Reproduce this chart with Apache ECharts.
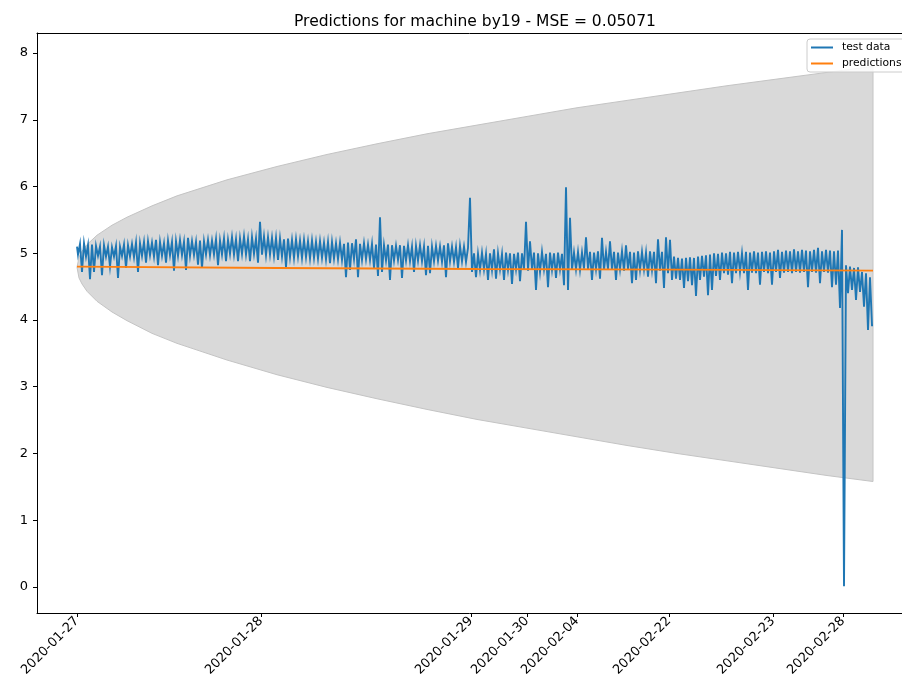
<!DOCTYPE html>
<html>
<head>
<meta charset="utf-8">
<script src="https://cdn.jsdelivr.net/npm/echarts@6/dist/echarts.min.js"></script>
<style>
  html, body { margin: 0; padding: 0; background: #fff; }
  #chart { width: 902px; height: 693px; }
</style>
</head>
<body>
<div id="chart"></div>
<script>
// ---- data (x axis = sample index) ----
const dateLabels = ['2020-01-27', '2020-01-28', '2020-01-29', '2020-01-30', '2020-02-04', '2020-02-22', '2020-02-23', '2020-02-28'];
const dateTickIndex = [0, 92, 197, 225, 250, 296, 348, 383];
const yTicks = [0, 1, 2, 3, 4, 5, 6, 7, 8];

const testValues = [
  5.10, 4.98, 5.14, 4.72, 5.15, 4.95, 5.12, 4.61, 5.13, 4.72,
  5.11, 4.96, 5.10, 4.67, 5.12, 4.95, 5.10, 4.80, 5.09, 4.95,
  5.11, 4.63, 5.10, 4.96, 5.13, 4.78, 5.12, 4.95, 5.14, 4.94,
  5.16, 4.72, 5.15, 4.96, 5.17, 4.86, 5.18, 4.97, 5.16, 4.95,
  5.20, 4.82, 5.17, 4.96, 5.15, 4.86, 5.19, 4.97, 5.17, 4.74,
  5.18, 4.96, 5.20, 4.97, 5.17, 4.75, 5.23, 4.96, 5.18, 4.97,
  5.17, 4.83, 5.19, 4.78, 5.18, 4.98, 5.20, 4.97, 5.19, 4.98,
  5.21, 4.82, 5.19, 4.98, 5.22, 4.88, 5.20, 4.99, 5.24, 4.98,
  5.21, 4.88, 5.22, 4.99, 5.25, 4.98, 5.21, 4.88, 5.24, 4.99,
  5.22, 4.86, 5.47, 4.98, 5.25, 4.97, 5.24, 4.98, 5.23, 4.96,
  5.23, 4.90, 5.22, 4.95, 5.21, 4.79, 5.22, 4.94, 5.20, 4.93,
  5.21, 4.95, 5.19, 4.93, 5.20, 4.94, 5.18, 4.92, 5.19, 4.93,
  5.17, 4.92, 5.18, 4.93, 5.16, 4.91, 5.17, 4.85, 5.17, 4.92,
  5.15, 4.91, 5.16, 4.90, 5.14, 4.64, 5.16, 4.75, 5.15, 4.91,
  5.21, 4.64, 5.14, 4.90, 5.15, 4.91, 5.13, 4.90, 5.14, 4.78,
  5.13, 4.66, 5.54, 4.72, 5.12, 4.89, 5.13, 4.60, 5.12, 4.89,
  5.11, 4.90, 5.12, 4.63, 5.11, 4.89, 5.12, 4.88, 5.10, 4.72,
  5.11, 4.89, 5.12, 4.88, 5.10, 4.67, 5.11, 4.70, 5.10, 4.88,
  5.11, 4.89, 5.10, 4.87, 5.12, 4.64, 5.15, 4.88, 5.10, 4.87,
  5.09, 4.78, 5.11, 4.88, 5.10, 4.87, 5.08, 5.83,
  4.72, 5.00, 4.64, 4.99, 4.75, 5.01, 4.76, 4.99, 4.60, 5.00,
  4.75, 5.06, 4.62, 5.00, 4.76, 4.99, 4.60, 5.01, 4.75, 5.00,
  4.54, 4.99, 4.76, 5.01, 4.58, 5.00, 4.75, 5.47, 4.74, 5.18,
  4.76, 5.01, 4.45, 5.00, 4.72, 5.02, 4.76, 4.99, 4.49, 5.01,
  4.75, 5.00, 4.63, 5.01, 4.76, 4.99, 4.52, 5.99, 4.45, 5.53,
  4.75, 5.01, 4.76, 5.02, 4.75, 5.01, 4.77, 5.24, 4.76, 5.02,
  4.60, 5.01, 4.76, 5.03, 4.62, 5.23, 4.75, 5.02, 4.76, 5.18,
  4.75, 5.02, 4.60, 5.01, 4.76, 5.03, 4.74, 5.12, 4.76, 5.02,
  4.55, 5.01, 4.60, 5.03, 4.75, 5.02, 4.76, 5.01, 4.65, 5.03,
  4.75, 5.02, 4.55, 5.21, 4.74, 5.02, 4.48, 5.24, 4.70, 5.20,
  4.60, 4.95, 4.62, 4.93, 4.60, 4.92, 4.48, 4.93, 4.58, 4.94,
  4.52, 4.93, 4.36, 4.95, 4.60, 4.96, 4.65, 4.97, 4.37, 4.98,
  4.45, 5.00, 4.66, 4.99, 4.60, 5.01, 4.70, 5.00, 4.68, 5.02,
  4.55, 5.01, 4.70, 5.02, 4.72, 5.00, 4.70, 5.02, 4.45, 5.01,
  4.71, 5.03, 4.70, 5.01, 4.53, 5.02, 4.72, 5.03, 4.70, 5.01,
  4.53, 5.03, 4.72, 5.05, 4.63, 5.02, 4.71, 5.04, 4.72, 5.03,
  4.70, 5.06, 4.72, 5.03, 4.71, 5.05, 4.72, 5.04, 4.49, 5.03,
  4.72, 5.05, 4.71, 5.08, 4.55, 5.03, 4.72, 5.05, 4.71, 5.04,
  4.49, 5.03, 4.53, 5.04, 4.18, 5.35, 0.01, 4.82, 4.40, 4.80,
  4.45, 4.78, 4.30, 4.79, 4.42, 4.72, 4.20, 4.70, 3.85, 4.64, 3.92
];

const predIndex = [0, 100, 200, 300, 398];
const predValues = [4.80, 4.78, 4.765, 4.755, 4.74];

const bandIndex = [0, 1, 2.5, 5, 10, 17.5, 25, 37.5, 50, 75, 100, 125, 150, 175, 200, 225, 250, 275, 300, 325, 350, 375, 398];
const bandUpper = [4.79, 4.94, 5.03, 5.13, 5.27, 5.42, 5.54, 5.71, 5.86, 6.10, 6.30, 6.48, 6.64, 6.79, 6.92, 7.05, 7.18, 7.29, 7.40, 7.51, 7.61, 7.71, 7.80];
const bandLower = [4.79, 4.63, 4.54, 4.43, 4.28, 4.12, 3.99, 3.80, 3.65, 3.40, 3.18, 2.99, 2.82, 2.66, 2.51, 2.38, 2.25, 2.12, 2.00, 1.89, 1.78, 1.67, 1.58];

// ---- build ----
const FONT = 'DejaVu Sans';
const testData = testValues.map((v, i) => [i, v]);
const predData = predIndex.map((x, i) => [x, predValues[i]]);

const X_MIN = -20, X_MAX = 412.5;

function renderBand(params, api) {
  const pts = [];
  for (let i = 0; i < bandIndex.length; i++) pts.push(api.coord([bandIndex[i], bandUpper[i]]));
  for (let i = bandIndex.length - 1; i >= 0; i--) pts.push(api.coord([bandIndex[i], bandLower[i]]));
  return {
    type: 'polygon',
    shape: { points: pts },
    style: { fill: '#d9d9d9', stroke: '#c4c4c4', lineWidth: 1 },
    silent: true
  };
}

const chart = echarts.init(document.getElementById('chart'), null, { renderer: 'canvas' });
chart.setOption({
  animation: false,
  backgroundColor: '#fff',
  title: {
    text: 'Predictions for machine by19 - MSE = 0.05071',
    left: 470, top: 9, textAlign: 'center',
    textStyle: { fontFamily: FONT, fontSize: 15.5, fontWeight: 'normal', color: '#000' }
  },
  legend: {
    data: ['test data', 'predictions'],
    orient: 'vertical',
    left: 807, top: 39,
    padding: [3, 4, 3, 4],
    itemGap: 5,
    itemWidth: 22, itemHeight: 2,
    icon: 'rect',
    backgroundColor: 'rgba(255,255,255,0.85)',
    borderColor: '#cccccc', borderWidth: 1, borderRadius: 3,
    textStyle: { fontFamily: FONT, fontSize: 10.75, color: '#000', padding: [0, 0, 0, 4] },
    z: 10
  },
  grid: {
    left: 37, top: 33, right: 0, height: 580,
    show: false
  },
  xAxis: [
    {
      type: 'value', min: X_MIN, max: X_MAX,
      axisLine: { show: true, onZero: false, lineStyle: { color: '#000', width: 1 } },
      axisTick: { show: true, length: 4, customValues: dateTickIndex, lineStyle: { color: '#000', width: 1 } },
      axisLabel: {
        customValues: dateTickIndex, rotate: 45, margin: 6,
        formatter: v => dateLabels[dateTickIndex.indexOf(v)] || '',
        fontFamily: FONT, fontSize: 13, color: '#000'
      },
      splitLine: { show: false }
    },
    {
      type: 'value', position: 'top', min: X_MIN, max: X_MAX,
      axisLine: { show: true, onZero: false, lineStyle: { color: '#000', width: 1 } },
      axisTick: { show: false }, axisLabel: { show: false }, splitLine: { show: false }
    }
  ],
  yAxis: {
    type: 'value', min: -0.39, max: 8.30,
    axisLine: { show: true, onZero: false, lineStyle: { color: '#000', width: 1 } },
    axisTick: { show: true, length: 4, customValues: yTicks, lineStyle: { color: '#000', width: 1 } },
    axisLabel: {
      customValues: yTicks, margin: 9,
      fontFamily: FONT, fontSize: 13, color: '#000'
    },
    splitLine: { show: false }
  },
  series: [
    {
      name: 'band', type: 'custom', renderItem: renderBand,
      data: [[bandIndex[0], bandLower[0]]],
      encode: { x: 0, y: 1 },
      clip: true, silent: true, z: 1
    },
    {
      name: 'test data', type: 'line', data: testData, step: 'middle',
      showSymbol: false, z: 2, color: '#1f77b4',
      lineStyle: { color: '#1f77b4', width: 1.9, join: 'miter' }
    },
    {
      name: 'predictions', type: 'line', data: predData,
      showSymbol: false, z: 3, color: '#ff7f0e',
      lineStyle: { color: '#ff7f0e', width: 1.9 }
    }
  ]
});
</script>
</body>
</html>
